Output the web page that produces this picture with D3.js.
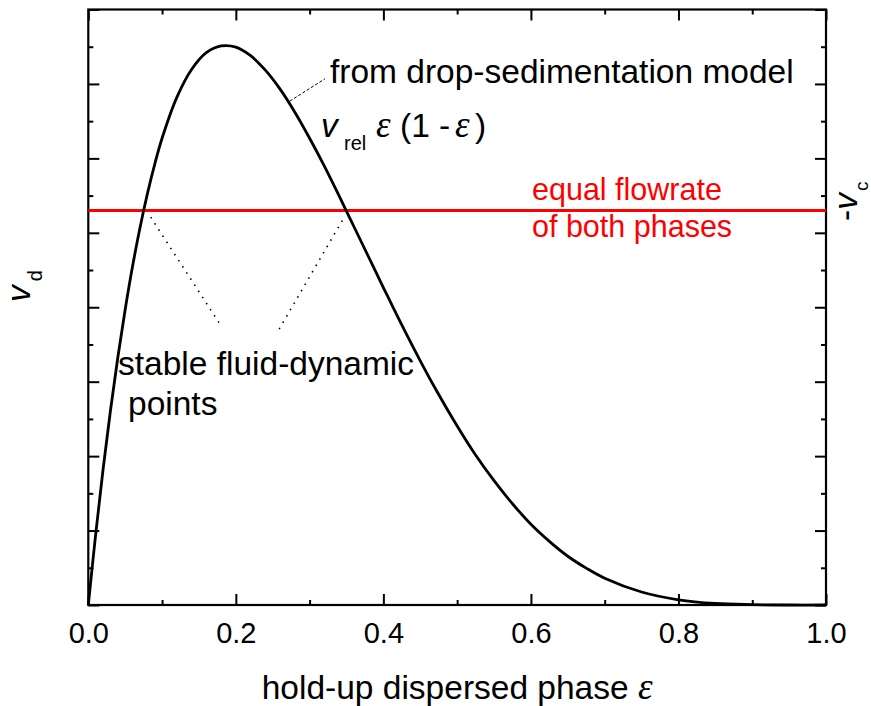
<!DOCTYPE html>
<html>
<head>
<meta charset="utf-8">
<script src="https://cdn.jsdelivr.net/npm/d3@7"></script>
<style>
  body { margin: 0; background: #fff; }
  svg text { font-family: "Liberation Sans", Arial, Helvetica, sans-serif; fill: #000; }
</style>
</head>
<body>
<svg id="chart" width="871" height="706"></svg>
<script>
// Hold-up of the dispersed phase (x) and drop velocity v_d from the sedimentation model (y, arbitrary units)
const holdUp = [0, 0.01, 0.02, 0.03, 0.04, 0.05, 0.06, 0.07, 0.08, 0.09, 0.10,
  0.12, 0.14, 0.16, 0.18, 0.20, 0.22, 0.24, 0.26, 0.28, 0.30, 0.32, 0.34, 0.36, 0.38, 0.40,
  0.42, 0.45, 0.47, 0.50, 0.525, 0.55, 0.575, 0.60, 0.625, 0.65, 0.675, 0.70,
  0.75, 0.80, 0.85, 0.90, 0.95, 1.0];
const dropVelocity = [0, 1.90, 3.64, 5.22, 6.65, 7.94, 9.10, 10.13, 11.04, 11.84, 12.54,
  13.64, 14.39, 14.84, 15.02, 14.99, 14.76, 14.37, 13.86, 13.24, 12.54, 11.79, 10.99, 10.17, 9.35, 8.53,
  7.72, 6.56, 5.83, 4.81, 4.03, 3.34, 2.72, 2.17, 1.71, 1.31, 0.99, 0.72,
  0.35, 0.14, 0.04, 0.01, 0, 0];

// Continuous-phase velocity level (equal flowrate of both phases)
const flowrateLevel = 10.6;

// Axis ticks
const xMajorTicks = [0, 0.2, 0.4, 0.6, 0.8, 1.0];
const xMinorTicks = [0.1, 0.3, 0.5, 0.7, 0.9];
const yMajorTicks = [0, 2, 4, 6, 8, 10, 12, 14, 16];
const yMinorTicks = [1, 3, 5, 7, 9, 11, 13, 15];

// Pointer lines from the labels to the curve, in data units [x1, y1, x2, y2]
const stablePointers = [[0.0846, 10.42, 0.1803, 7.49], [0.3443, 10.33, 0.2554, 7.30]];
const modelPointer = [0.2733, 13.54, 0.3209, 14.14];

const svg = d3.select("#chart");
const plotLeft = 88.3, plotRight = 826, plotTop = 9.5, plotBottom = 605;

const x = d3.scaleLinear().domain([0, 1]).range([plotLeft, plotRight]);
const y = d3.scaleLinear().domain([0, 16]).range([plotBottom, plotTop]);

const MAJOR = 11, MINOR = 5;

function styleAxis(g) {
  g.select(".domain").remove();
  g.selectAll(".tick line").attr("stroke", "#000").attr("stroke-width", 2);
}

// bottom axis with labels
svg.append("g")
  .attr("transform", `translate(0,${plotBottom})`)
  .call(d3.axisBottom(x).tickValues(xMajorTicks).tickSize(-MAJOR).tickPadding(17.5)
    .tickFormat(d3.format(".1f")))
  .call(styleAxis)
  .call(g => g.selectAll("text").attr("font-size", 29).style("font-family", "'Liberation Sans', Arial, sans-serif"));
svg.append("g")
  .attr("transform", `translate(0,${plotBottom})`)
  .call(d3.axisBottom(x).tickValues(xMinorTicks).tickSize(-MINOR).tickFormat(""))
  .call(styleAxis);

// top axis, ticks only
svg.append("g")
  .attr("transform", `translate(0,${plotTop})`)
  .call(d3.axisTop(x).tickValues(xMajorTicks).tickSize(-MAJOR).tickFormat(""))
  .call(styleAxis);
svg.append("g")
  .attr("transform", `translate(0,${plotTop})`)
  .call(d3.axisTop(x).tickValues(xMinorTicks).tickSize(-MINOR).tickFormat(""))
  .call(styleAxis);

// left and right axes, ticks only
[[d3.axisLeft, plotLeft], [d3.axisRight, plotRight]].forEach(([axisFn, pos]) => {
  svg.append("g")
    .attr("transform", `translate(${pos},0)`)
    .call(axisFn(y).tickValues(yMajorTicks).tickSize(-MAJOR).tickFormat(""))
    .call(styleAxis);
  svg.append("g")
    .attr("transform", `translate(${pos},0)`)
    .call(axisFn(y).tickValues(yMinorTicks).tickSize(-MINOR).tickFormat(""))
    .call(styleAxis);
});

// plot frame
svg.append("rect")
  .attr("x", plotLeft).attr("y", plotTop)
  .attr("width", plotRight - plotLeft).attr("height", plotBottom - plotTop)
  .attr("fill", "none").attr("stroke", "#000").attr("stroke-width", 2.2);

// equal flowrate line
svg.append("line")
  .attr("x1", x(0)).attr("x2", x(1))
  .attr("y1", y(flowrateLevel)).attr("y2", y(flowrateLevel))
  .attr("stroke", "#ff0000").attr("stroke-width", 3);

// model curve
const curveData = holdUp.map((e, i) => ({ e, v: dropVelocity[i] }));
svg.append("path")
  .datum(curveData)
  .attr("fill", "none")
  .attr("stroke", "#000")
  .attr("stroke-width", 2.8)
  .attr("stroke-linejoin", "round")
  .attr("d", d3.line().x(d => x(d.e)).y(d => y(d.v)).curve(d3.curveCatmullRom.alpha(0.5)));

// dotted pointers to the stable operating points
svg.selectAll(".stable-ptr")
  .data(stablePointers)
  .enter().append("line")
  .attr("class", "stable-ptr")
  .attr("x1", d => x(d[0])).attr("y1", d => y(d[1]))
  .attr("x2", d => x(d[2])).attr("y2", d => y(d[3]))
  .attr("stroke", "#000").attr("stroke-width", 1.6)
  .attr("stroke-dasharray", "1.5,5.8");

// dashed leader to the model label
svg.append("line")
  .attr("x1", x(modelPointer[0])).attr("y1", y(modelPointer[1]))
  .attr("x2", x(modelPointer[2])).attr("y2", y(modelPointer[3]))
  .attr("stroke", "#000").attr("stroke-width", 1)
  .attr("stroke-dasharray", "3,2");

// annotation texts
const FS = 33.5;
const SERIF = "'Liberation Serif', 'Times New Roman', serif";
svg.append("text").attr("x", 330).attr("y", 83).attr("font-size", FS)
  .text("from drop-sedimentation model");

const formula = svg.append("text").attr("y", 137).attr("font-size", FS);
formula.append("tspan").attr("x", 321).attr("font-style", "italic").text("v");
formula.append("tspan").attr("x", 344).attr("dy", 13).attr("font-size", 20).text("rel");
formula.append("tspan").attr("x", 376).attr("dy", -13).attr("font-size", 37)
  .style("font-family", SERIF).attr("font-style", "italic").text("ε");
formula.append("tspan").attr("x", 400).text("(1 -");
formula.append("tspan").attr("x", 455).attr("font-size", 37)
  .style("font-family", SERIF).attr("font-style", "italic").text("ε");
formula.append("tspan").attr("x", 475).text(")");

svg.append("text").attr("x", 532).attr("y", 200).attr("font-size", 30.5)
  .style("fill", "#ff0000").text("equal flowrate");
svg.append("text").attr("x", 532).attr("y", 237).attr("font-size", 30.5)
  .style("fill", "#ff0000").text("of both phases");

svg.append("text").attr("x", 118).attr("y", 375).attr("font-size", FS)
  .text("stable fluid-dynamic");
svg.append("text").attr("x", 128).attr("y", 415).attr("font-size", FS)
  .text("points");

// x-axis title
const xTitle = svg.append("text")
  .attr("x", (plotLeft + plotRight) / 2).attr("y", 699)
  .attr("text-anchor", "middle").attr("font-size", FS);
xTitle.append("tspan").text("hold-up dispersed phase ");
xTitle.append("tspan").attr("font-size", 37)
  .style("font-family", SERIF).attr("font-style", "italic").text("ε");

// left y title v_d
const yTitle = svg.append("text")
  .attr("transform", "translate(30,302) rotate(-90)")
  .attr("font-size", FS);
yTitle.append("tspan").attr("font-style", "italic").text("v");
yTitle.append("tspan").attr("dx", 4).attr("dy", 12).attr("font-size", 20).text("d");

// right title -v_c
const rTitle = svg.append("text")
  .attr("transform", "translate(857,221) rotate(-90)")
  .attr("font-size", FS);
rTitle.append("tspan").text("-");
rTitle.append("tspan").attr("font-style", "italic").text("v");
rTitle.append("tspan").attr("dx", 2).attr("dy", 11).attr("font-size", 19).text("c");
</script>
</body>
</html>
